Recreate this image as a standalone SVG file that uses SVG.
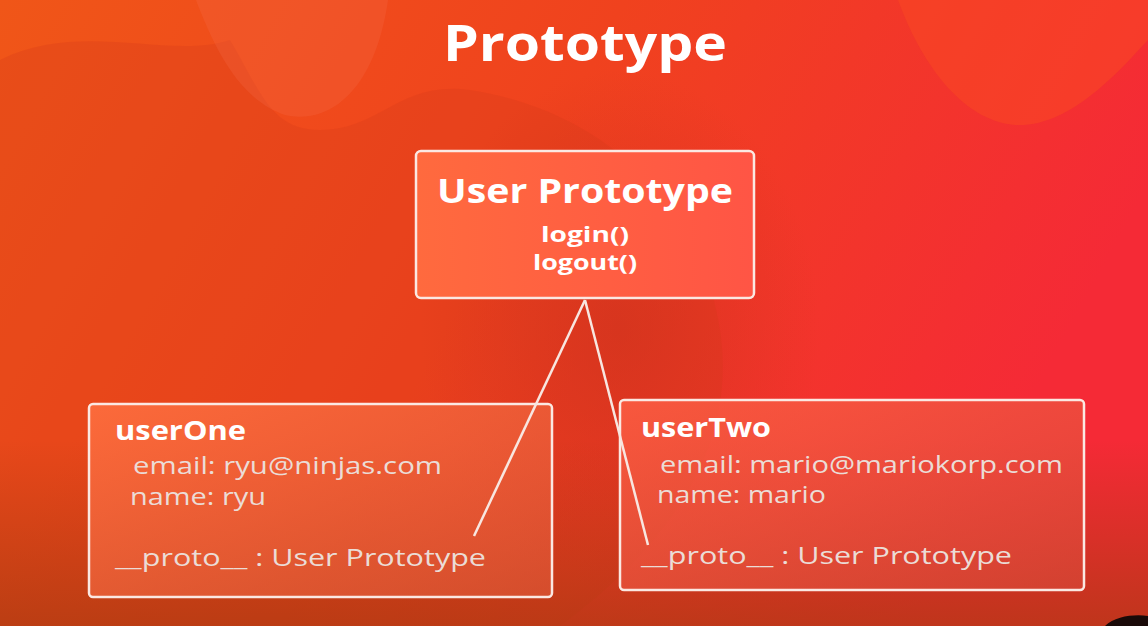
<svg xmlns="http://www.w3.org/2000/svg" width="1148" height="626" viewBox="0 0 1148 626">
<defs>
<linearGradient id="bg" x1="0" y1="0" x2="1" y2="0.3">
<stop offset="0" stop-color="#f05618"/>
<stop offset="0.5" stop-color="#f0421e"/>
<stop offset="1" stop-color="#f52a36"/>
</linearGradient>
<radialGradient id="dark" cx="0.5" cy="0.5" r="0.5">
<stop offset="0" stop-color="#c8301c" stop-opacity="0.55"/>
<stop offset="1" stop-color="#c8301c" stop-opacity="0"/>
</radialGradient>
<linearGradient id="bl" x1="0" y1="0" x2="0" y2="1">
<stop offset="0" stop-color="#a83a10" stop-opacity="0"/>
<stop offset="1" stop-color="#a83a10" stop-opacity="0.7"/>
</linearGradient>
<linearGradient id="topbox" x1="0" y1="0" x2="1" y2="0">
<stop offset="0" stop-color="#ff6a3e"/>
<stop offset="1" stop-color="#ff5545"/>
</linearGradient>
<linearGradient id="box1" x1="0" y1="0" x2="1" y2="1">
<stop offset="0" stop-color="#ff7040" stop-opacity="0.85"/>
<stop offset="1" stop-color="#e05a3a" stop-opacity="0.6"/>
</linearGradient>
<linearGradient id="box2" x1="0" y1="0" x2="1" y2="1">
<stop offset="0" stop-color="#ff6045" stop-opacity="0.8"/>
<stop offset="1" stop-color="#d84a3a" stop-opacity="0.6"/>
</linearGradient>
<style>
.box{stroke:#fbe8e2;stroke-width:2.5}
.t{font-family:"Open Sans","Liberation Sans",sans-serif;fill:#ffffff;font-weight:700}
.p{font-family:"Open Sans","Liberation Sans",sans-serif;fill:#ebdcd6;font-size:24px;font-weight:500}
.edge{stroke:#f8e6e0;stroke-width:2.5;fill:none}
</style>
</defs>
<rect width="1148" height="626" fill="url(#bg)"/>
<path d="M0 60 C80 20 170 60 230 40 C260 90 270 130 320 130 C380 130 400 80 470 90 C600 110 700 200 720 330 C740 460 650 560 560 626 L0 626 Z" fill="#d83c1c" opacity="0.3"/>
<ellipse cx="620" cy="330" rx="200" ry="260" fill="url(#dark)"/>
<path d="M196 0 C215 50 240 100 285 115 C330 125 375 90 388 0 Z" fill="#f87050" opacity="0.22"/>
<path d="M898 0 C920 60 960 120 1015 125 C1070 128 1120 70 1148 40 L1148 0 Z" fill="#fa4a22" opacity="0.5"/>
<rect x="0" y="440" width="1148" height="186" fill="url(#bl)"/>
<path d="M1105 626 C1115 616 1135 614 1148 616 L1148 626 Z" fill="#1a0a08"/>
<text class="t" x="585" y="61" font-size="50" text-anchor="middle" textLength="284" lengthAdjust="spacingAndGlyphs">Prototype</text>
<g id="userPrototype">
<rect class="box" x="416" y="151" width="338" height="147" rx="5" fill="url(#topbox)"/>
<text class="t" x="585" y="203" font-size="34" text-anchor="middle" textLength="296" lengthAdjust="spacingAndGlyphs">User Prototype</text>
<text class="t" x="585" y="242" font-size="22" text-anchor="middle" textLength="88" lengthAdjust="spacingAndGlyphs">login()</text>
<text class="t" x="585" y="270" font-size="22" text-anchor="middle" textLength="104" lengthAdjust="spacingAndGlyphs">logout()</text>
</g>
<g id="userOne">
<rect class="box" x="89" y="404" width="463" height="193" rx="4" fill="url(#box1)"/>
<text class="t" x="115" y="440" font-size="27" textLength="131" lengthAdjust="spacingAndGlyphs">userOne</text>
<text class="p" x="133" y="474" textLength="309" lengthAdjust="spacingAndGlyphs">email: ryu@ninjas.com</text>
<text class="p" x="130" y="505" textLength="136" lengthAdjust="spacingAndGlyphs">name: ryu</text>
<text class="p" x="115" y="566" textLength="371" lengthAdjust="spacingAndGlyphs">__proto__ : User Prototype</text>
</g>
<g id="userTwo">
<rect class="box" x="620" y="400" width="464" height="190" rx="4" fill="url(#box2)"/>
<text class="t" x="641" y="437" font-size="27" textLength="130" lengthAdjust="spacingAndGlyphs">userTwo</text>
<text class="p" x="660" y="473" textLength="403" lengthAdjust="spacingAndGlyphs">email: mario@mariokorp.com</text>
<text class="p" x="657" y="503" textLength="169" lengthAdjust="spacingAndGlyphs">name: mario</text>
<text class="p" x="641" y="564" textLength="371" lengthAdjust="spacingAndGlyphs">__proto__ : User Prototype</text>
</g>
<g id="connectors">
<line class="edge" x1="585" y1="300" x2="474" y2="536"/>
<line class="edge" x1="585" y1="300" x2="648" y2="545"/>
</g>
</svg>
